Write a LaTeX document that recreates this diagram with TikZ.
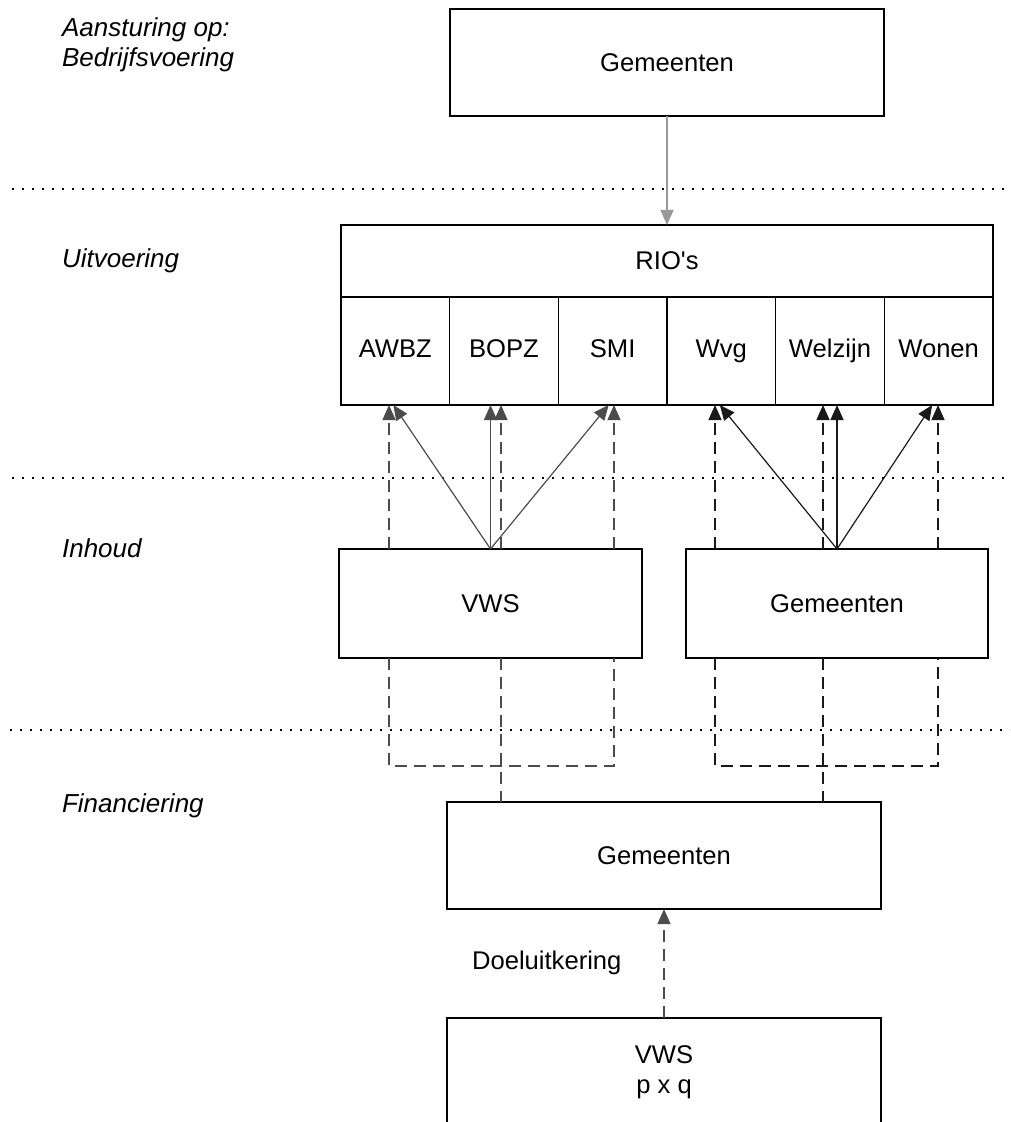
\documentclass[tikz,border=0pt]{standalone}
\usepackage{fontspec}
\setmainfont{Liberation Sans}
\usetikzlibrary{positioning, chains, arrows.meta}

\begin{document}
\begin{tikzpicture}[x=0.5pt, y=-0.5pt,
    box/.style={rectangle, draw, line width=0.7pt, inner sep=0pt, outer sep=0pt,
      minimum width=217pt, minimum height=53.5pt, font=\fontsize{12.8}{15}\selectfont},
    cell/.style={box, minimum width=54.33pt, minimum height=54pt,
      text height=9.2pt, text depth=2.8pt},
    lbl/.style={anchor=base west, font=\fontsize{13}{15}\selectfont\itshape},
    dots/.style={line width=0.7pt, dash pattern=on 1pt off 4pt},
    dline/.style={line width=0.6pt, dash pattern=on 6pt off 3.5pt},
    >={Triangle[length=7.5pt,width=6.5pt]}]

  \useasboundingbox (0,0) rectangle (1010,1122);
  \clip (0,0) rectangle (1010,1122);

  % layers
  \node[lbl] (sturing) at (55,37) {Aansturing op:};
  \node[lbl] (bedrijf) at (55,67) {Bedrijfsvoering};
  \node[lbl] (uitv) at (55,268) {Uitvoering};
  \node[lbl] (inh) at (55,557) {Inhoud};
  \node[lbl] (fin) at (55,812) {Financiering};
  \draw[dots] (12,189) -- (1010,189);
  \draw[dots] (12,478) -- (1010,478);
  \draw[dots] (10,730) -- (1010,730);

  % boxes
  \node[box] (gemTop) at (667,62.5) {Gemeenten};
  \node[box, minimum width=326pt, minimum height=36pt] (rio) at (667,261) {RIO\textquotesingle s};
  \begin{scope}[start chain, node distance=0pt]
    \node[cell, on chain, anchor=north west] (awbz) at (rio.south west) {AWBZ};
    \node[cell, on chain] (bopz) {BOPZ};
    \node[cell, on chain] (smi) {SMI};
    \node[cell, on chain] (wvg) {Wvg};
    \node[cell, on chain] (welzijn) {Welzijn};
    \node[cell, on chain] (wonen) {Wonen};
  \end{scope}
  \node[box, minimum width=151.5pt, minimum height=54.5pt] (vws) at (490.5,603.5) {VWS};
  \node[box, minimum width=151pt, minimum height=54.5pt] (gemMid) at (837,603.5) {Gemeenten};
  \node[box] (gemFin) at (664,855.5) {Gemeenten};
  \node[box, minimum height=54pt, align=center] (vwsFin) at (664,1072) {VWS\\p x q};
  \node[anchor=west, font=\fontsize{12.8}{15}\selectfont] (doel) at (465,963) {Doeluitkering};

  \coordinate (la) at (389,766);
  \coordinate (lb) at (501,766);
  \coordinate (lc) at (614,766);
  \coordinate (ra) at (715,766);
  \coordinate (rb) at (823,766);
  \coordinate (rc) at (938,766);

  % aansturing
  \draw[->, line width=0.6pt, black!40] (gemTop) -- (rio);

  % inhoud: VWS
  \begin{scope}[black!70]
    \draw[->, line width=0.6pt] (vws.north) -- ([xshift=-1pt]awbz.south);
    \draw[->, line width=0.6pt] (vws.north) -- (vws.north |- bopz.south);
    \draw[->, line width=0.6pt] (vws.north) -- ([xshift=-2pt]smi.south);
    \draw[dline, ->] (vws.north -| la) -- (awbz.south -| la);
    \draw[dline, ->] (vws.north -| lb) -- (bopz.south -| lb);
    \draw[dline, ->] (vws.north -| lc) -- (smi.south -| lc);
    \draw[dline] (vws.south -| la) -- (la) -- (lc) -- (vws.south -| lc);
    \draw[dline] (vws.south -| lb) -- (gemFin.north -| lb);
  \end{scope}

  % inhoud: Gemeenten
  \begin{scope}[black!90]
    \draw[->, line width=0.6pt] (gemMid.north) -- ([xshift=-0.75pt]wvg.south);
    \draw[->, line width=0.6pt] (gemMid.north) -- (gemMid.north |- welzijn.south);
    \draw[->, line width=0.6pt] (gemMid.north) -- ([xshift=-3.25pt]wonen.south);
    \draw[dline, ->] (gemMid.north -| ra) -- (wvg.south -| ra);
    \draw[dline, ->] (gemMid.north -| rb) -- (welzijn.south -| rb);
    \draw[dline, ->] (gemMid.north -| rc) -- (wonen.south -| rc);
    \draw[dline] (gemMid.south -| ra) -- (ra) -- (rc) -- (gemMid.south -| rc);
    \draw[dline] (gemMid.south -| rb) -- (gemFin.north -| rb);
  \end{scope}

  % financiering
  \draw[dline, ->, black!70] (vwsFin) -- (gemFin);
\end{tikzpicture}
\end{document}
